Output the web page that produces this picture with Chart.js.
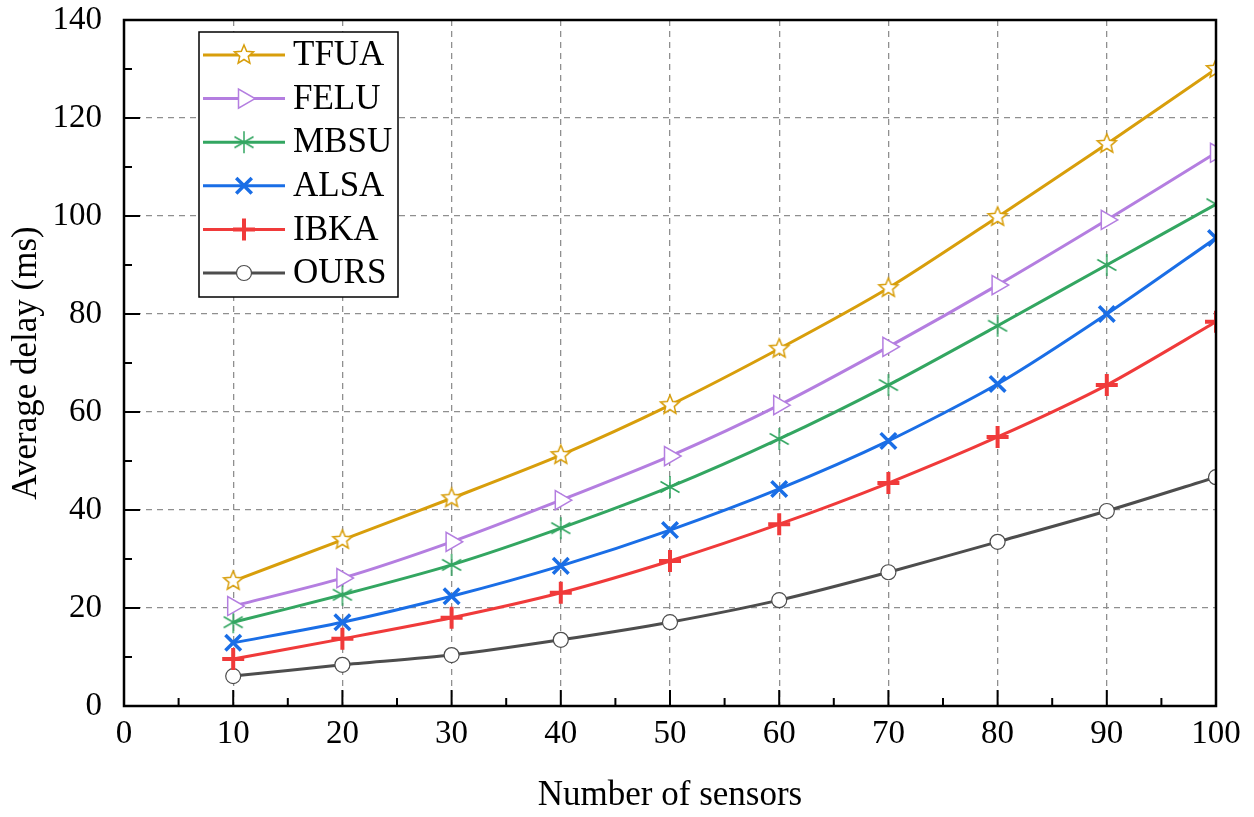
<!DOCTYPE html>
<html lang="en">
<head>
<meta charset="UTF-8">
<title>Average delay vs number of sensors</title>
<script src="https://cdn.jsdelivr.net/npm/chart.js"></script>
<style>
  html, body { margin: 0; padding: 0; background: #fff; }
  #wrap { width: 1254px; height: 817px; }
</style>
</head>
<body>
<div id="wrap"><canvas id="delayChart"></canvas></div>
<script>
// values
const sensors = [10, 20, 30, 40, 50, 60, 70, 80, 90, 100];
const seriesNames = ["TFUA", "FELU", "MBSU", "ALSA", "IBKA", "OURS"];
const tfua = [25.5, 33.9, 42.4, 51.2, 61.4, 72.9, 85.3, 99.8, 114.7, 130.0];
const felu = [20.4, 26.1, 33.5, 42.0, 51.0, 61.4, 73.3, 85.9, 99.2, 112.9];
const mbsu = [17.1, 22.7, 28.8, 36.3, 44.7, 54.5, 65.5, 77.6, 90.0, 102.4];
const alsa = [12.9, 17.1, 22.4, 28.6, 35.9, 44.3, 54.1, 65.7, 80.0, 95.5];
const ibka = [9.6, 13.7, 18.0, 23.1, 29.6, 37.1, 45.5, 54.9, 65.5, 78.4];
const ours = [6.1, 8.4, 10.4, 13.5, 17.1, 21.6, 27.3, 33.5, 39.8, 46.7];
const xTicks = [0, 10, 20, 30, 40, 50, 60, 70, 80, 90, 100];
const yTicks = [0, 20, 40, 60, 80, 100, 120, 140];

const serif = "'Liberation Serif', 'Times New Roman', serif";

// hollow five point star marker
function starMarker(color, r) {
    const c = document.createElement("canvas");
    const s = Math.ceil(r * 2 + 4);
    c.width = s; c.height = s;
    const g = c.getContext("2d");
    g.translate(s / 2, s / 2);
    g.beginPath();
    for (let i = 0; i < 10; i++) {
        const rad = i % 2 === 0 ? r : r * 0.45;
        const a = -Math.PI / 2 + i * Math.PI / 5;
        g.lineTo(rad * Math.cos(a), rad * Math.sin(a));
    }
    g.closePath();
    g.fillStyle = "#fff";
    g.fill();
    g.strokeStyle = color;
    g.lineWidth = 1.5;
    g.stroke();
    return c;
}

// six arm asterisk marker
function asteriskMarker(color, r) {
    const c = document.createElement("canvas");
    const s = Math.ceil(r * 2 + 4);
    c.width = s; c.height = s;
    const g = c.getContext("2d");
    g.translate(s / 2, s / 2);
    g.strokeStyle = color;
    g.lineWidth = 1.5;
    g.beginPath();
    for (let i = 0; i < 3; i++) {
        const a = Math.PI / 2 + i * Math.PI / 3;
        g.moveTo(r * Math.cos(a), r * Math.sin(a));
        g.lineTo(-r * Math.cos(a), -r * Math.sin(a));
    }
    g.stroke();
    return c;
}

const colors = {
    tfua: "#d89e0b",
    felu: "#b47ee0",
    mbsu: "#33a661",
    alsa: "#1a6ee6",
    ibka: "#f03a3a",
    ours: "#4d4d4d"
};

function toPoints(vals) {
    return sensors.map((s, i) => ({ x: s, y: vals[i] }));
}

function series(label, vals, color, extra) {
    return Object.assign({
        label: label,
        data: toPoints(vals),
        borderColor: color,
        backgroundColor: color,
        borderWidth: 3,
        tension: 0.25,
        clip: 0,
        pointBorderColor: color,
        pointBackgroundColor: "#fff",
        pointBorderWidth: 1.5,
        pointRadius: 9,
        pointHoverRadius: 9
    }, extra);
}

const datasets = [
    series(seriesNames[0], tfua, colors.tfua, { pointStyle: starMarker(colors.tfua, 10) }),
    series(seriesNames[1], felu, colors.felu, { pointStyle: "triangle", pointRotation: 90, pointRadius: 11 }),
    series(seriesNames[2], mbsu, colors.mbsu, { pointStyle: asteriskMarker(colors.mbsu, 11) }),
    series(seriesNames[3], alsa, colors.alsa, { pointStyle: "crossRot", pointRadius: 11, pointBorderWidth: 3.5 }),
    series(seriesNames[4], ibka, colors.ibka, { pointStyle: "cross", pointRadius: 11, pointBorderWidth: 4 }),
    series(seriesNames[5], ours, colors.ours, { pointStyle: "circle", pointRadius: 7.5, pointBorderWidth: 1.2 })
];

// frame with inward ticks, like the original plot
const framePlugin = {
    id: "frame",
    afterDatasetsDraw(chart) {
        const { ctx, chartArea: a, scales } = chart;
        ctx.save();
        ctx.strokeStyle = "#000";
        ctx.lineWidth = 2;
        ctx.beginPath();
        for (let v = 0; v <= 100; v += 5) {
            const px = scales.x.getPixelForValue(v);
            const len = v % 10 === 0 ? 16 : 8;
            ctx.moveTo(px, a.bottom);
            ctx.lineTo(px, a.bottom - len);
        }
        for (let v = 0; v <= 140; v += 10) {
            const py = scales.y.getPixelForValue(v);
            const len = v % 20 === 0 ? 16 : 8;
            ctx.moveTo(a.left, py);
            ctx.lineTo(a.left + len, py);
        }
        ctx.stroke();
        ctx.lineWidth = 2.5;
        ctx.strokeRect(a.left, a.top, a.right - a.left, a.bottom - a.top);
        ctx.restore();
    }
};

// legend box: line sample + marker + name
const legendPlugin = {
    id: "boxLegend",
    afterDraw(chart) {
        const ctx = chart.ctx;
        const box = { x: 199, y: 32, w: 199, h: 265 };
        ctx.save();
        ctx.fillStyle = "#fff";
        ctx.fillRect(box.x, box.y, box.w, box.h);
        ctx.strokeStyle = "#000";
        ctx.lineWidth = 1.5;
        ctx.strokeRect(box.x, box.y, box.w, box.h);
        chart.data.datasets.forEach((ds, i) => {
            const y = 55 + i * 43.6;
            ctx.strokeStyle = ds.borderColor;
            ctx.lineWidth = ds.borderWidth;
            ctx.beginPath();
            ctx.moveTo(203, y);
            ctx.lineTo(285, y);
            ctx.stroke();
            ctx.fillStyle = ds.pointBackgroundColor;
            ctx.strokeStyle = ds.pointBorderColor;
            ctx.lineWidth = ds.pointBorderWidth;
            Chart.helpers.drawPoint(ctx, {
                pointStyle: ds.pointStyle,
                rotation: ds.pointRotation || 0,
                radius: ds.pointRadius,
                borderWidth: ds.pointBorderWidth
            }, 244, y);
            ctx.fillStyle = "#000";
            ctx.font = "35px " + serif;
            ctx.textBaseline = "middle";
            ctx.fillText(ds.label, 293, y + 1);
        });
        ctx.restore();
    }
};

function innerGrid(ends) {
    return ctx => (ends.includes(ctx.tick.value) ? "rgba(0,0,0,0)" : "#8f8f8f");
}

new Chart(document.getElementById("delayChart"), {
    type: "line",
    data: { datasets: datasets },
    options: {
        responsive: true,
        maintainAspectRatio: false,
        animation: false,
        devicePixelRatio: 1,
        layout: { padding: { top: 20, right: 38, left: 0, bottom: 0 } },
        plugins: {
            legend: { display: false },
            tooltip: { enabled: false }
        },
        scales: {
            x: {
                type: "linear",
                min: 0,
                max: 100,
                afterBuildTicks: s => { s.ticks = xTicks.map(v => ({ value: v })); },
                afterFit: s => { s.height = 111; },
                ticks: { color: "#000", font: { family: serif, size: 33 }, padding: 9 },
                grid: { color: innerGrid([0, 100]), lineWidth: 1.3, drawTicks: false },
                border: { display: false, dash: [6, 5] },
                title: {
                    display: true,
                    text: "Number of sensors",
                    color: "#000",
                    font: { family: serif, size: 35 },
                    padding: { top: 0, bottom: 0 }
                }
            },
            y: {
                min: 0,
                max: 140,
                afterBuildTicks: s => { s.ticks = yTicks.map(v => ({ value: v })); },
                afterFit: s => { s.width = 124; s.paddingTop = 0; s.paddingBottom = 0; },
                ticks: { color: "#000", font: { family: serif, size: 33 }, padding: 22 },
                grid: { color: innerGrid([0, 140]), lineWidth: 1.3, drawTicks: false },
                border: { display: false, dash: [6, 5] },
                title: {
                    display: true,
                    text: "Average delay (ms)",
                    color: "#000",
                    font: { family: serif, size: 35 },
                    padding: { top: 6, bottom: 0 }
                }
            }
        }
    },
    plugins: [framePlugin, legendPlugin]
});
</script>
</body>
</html>
